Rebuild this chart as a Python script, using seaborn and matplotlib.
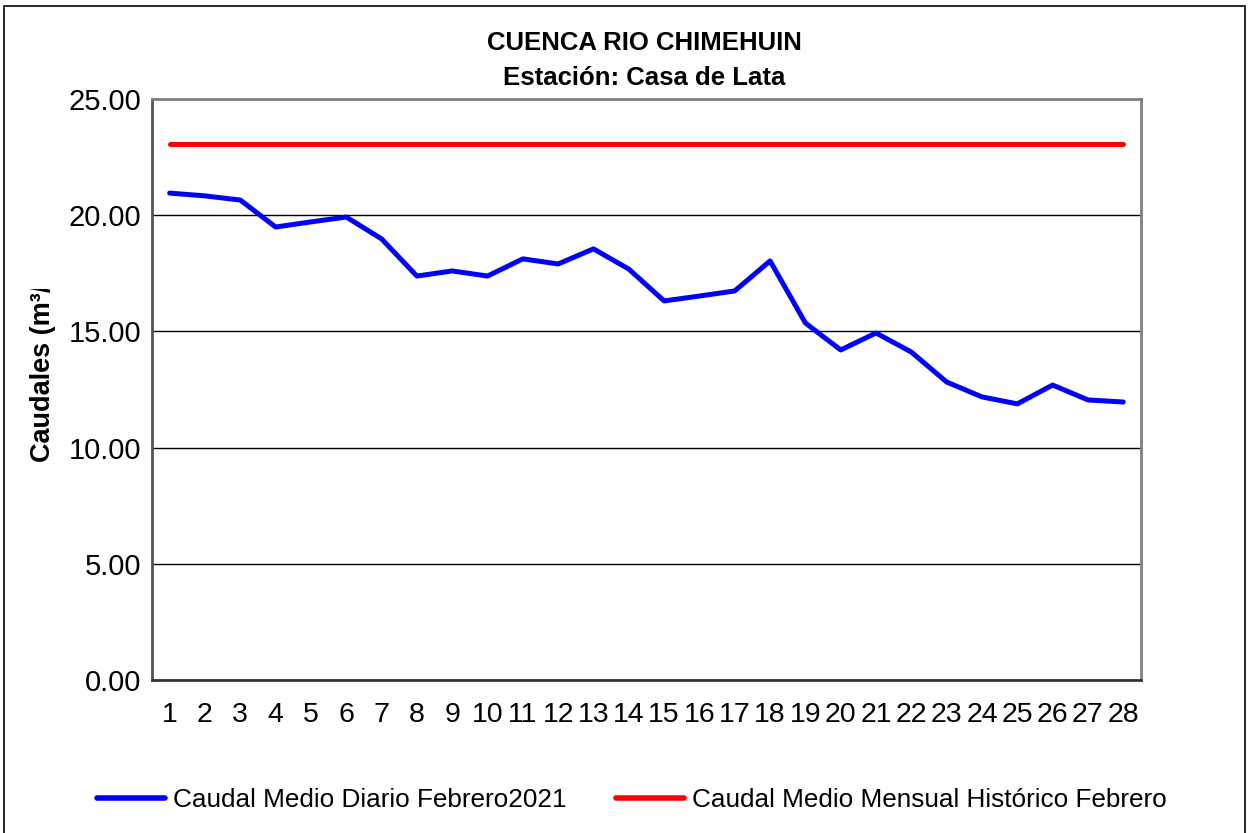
import numpy as np
import pandas as pd
import seaborn as sns
import matplotlib.pyplot as plt
from matplotlib.lines import Line2D
from matplotlib.patches import Rectangle
from matplotlib.transforms import Bbox, TransformedBbox

# daily flows, February 2021
dias = list(range(1, 29))
caudal_diario = [20.95, 20.83, 20.65, 19.49, 19.71, 19.92, 18.98, 17.38, 17.60, 17.38,
                 18.12, 17.90, 18.55, 17.68, 16.31, 16.52, 16.74, 18.03, 15.36, 14.20,
                 14.93, 14.11, 12.82, 12.18, 11.88, 12.69, 12.05, 11.96]
caudal_historico = [23.06] * 28
yticks = [0, 5, 10, 15, 20, 25]
series = ["Caudal Medio Diario Febrero2021", "Caudal Medio Mensual Histórico Febrero"]

df = pd.DataFrame({
    "dia": dias * 2,
    "caudal": caudal_diario + caudal_historico,
    "serie": [series[0]] * 28 + [series[1]] * 28,
})

sns.set_style("white")
plt.rcParams["font.family"] = ["Liberation Sans", "DejaVu Sans"]
plt.rcParams["text.color"] = "black"
plt.rcParams["xtick.color"] = "black"
plt.rcParams["ytick.color"] = "black"

fig = plt.figure(figsize=(12.51, 8.33), dpi=100)
ax = fig.add_axes([0.1215, 0.1837, 0.7905, 0.6975])

sns.lineplot(data=df, x="dia", y="caudal", hue="serie",
             palette=["#0000ff", "#ff0000"], linewidth=3.6, ax=ax, legend=False)

ax.set_xlim(0.5, 28.5)
ax.set_ylim(0, 25)
ax.set_yticks(yticks)
ax.set_yticklabels([f"{v:.2f}" for v in yticks], fontsize=21)
ax.set_xticks(dias)
ax.set_xticklabels([str(d) for d in dias], fontsize=20.5)
ax.set_xticks(np.arange(0.5, 29, 1), minor=True)
ax.tick_params(axis="x", which="major", length=0, pad=16)
ax.tick_params(axis="x", which="minor", length=6, width=1, color="black", direction="out")
ax.tick_params(axis="y", length=6, width=1, color="black", direction="out", pad=2)
ax.set_xlabel("")
ax.set_ylabel("")

for v in yticks[1:-1]:
    ax.axhline(v, color="black", linewidth=1, zorder=0)

for s in ["top", "right"]:
    ax.spines[s].set_color("#808080")
    ax.spines[s].set_linewidth(2)
ax.spines["left"].set_color("#555555")
ax.spines["left"].set_linewidth(2)
ax.spines["bottom"].set_color("#333333")
ax.spines["bottom"].set_linewidth(2)

fig.text(0.515, 0.948, "CUENCA RIO CHIMEHUIN", ha="center", va="center",
         fontsize=18.5, fontweight="bold")
fig.text(0.515, 0.906, "Estación: Casa de Lata", ha="center", va="center",
         fontsize=18.5, fontweight="bold")

# y label, cut off at the top like in the original
yl = fig.text(0.034, 1 - 462 / 833, "Caudales (m³/s)", rotation=90, ha="center", va="bottom",
              fontsize=19.5, fontweight="bold")
yl.set_clip_box(TransformedBbox(Bbox([[0, 0.3], [0.1, 1 - 289 / 833]]), fig.transFigure))
yl.set_clip_on(True)

# legend
handles = [Line2D([], [], color="#0000ff", linewidth=4),
           Line2D([], [], color="#ff0000", linewidth=4)]
fig.legend(handles, series, loc="center", bbox_to_anchor=(0.505, 0.04), ncol=2, frameon=False,
           fontsize=18.8, handlelength=2.6, handletextpad=0.3, columnspacing=1.9)

fig.add_artist(Rectangle((0.0032, -0.01), 0.992, 1.003, transform=fig.transFigure,
                         fill=False, edgecolor="black", linewidth=1.2))

fig.savefig("out.png", dpi=100)
